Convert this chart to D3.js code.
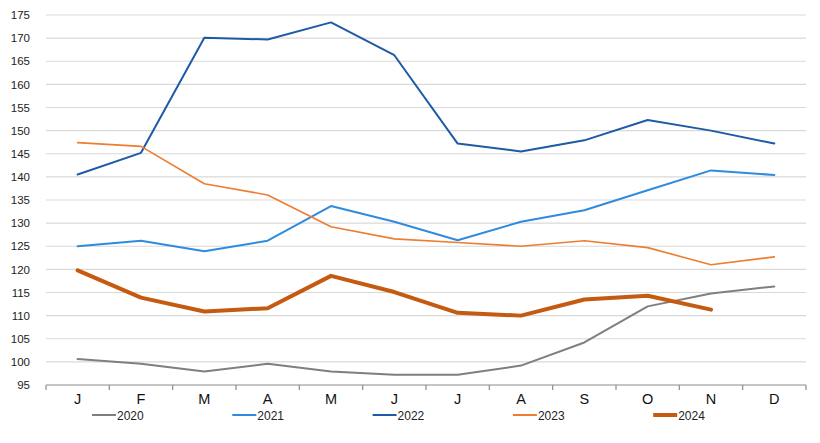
<!DOCTYPE html>
<html>
<head>
<meta charset="utf-8">
<script src="https://cdn.jsdelivr.net/npm/d3@7"></script>
<style>
  body { margin: 0; background: #fff; }
  text { font-family: "Liberation Sans", Arial, sans-serif; }
</style>
</head>
<body>
<div id="chart"></div>
<script>
// data
const months = ['J', 'F', 'M', 'A', 'M', 'J', 'J', 'A', 'S', 'O', 'N', 'D'];
const years = ['2020', '2021', '2022', '2023', '2024'];
const yTicks = [95, 100, 105, 110, 115, 120, 125, 130, 135, 140, 145, 150, 155, 160, 165, 170, 175];

const v2020 = [100.6, 99.6, 97.9, 99.6, 97.9, 97.2, 97.2, 99.2, 104.2, 112.0, 114.8, 116.3];
const v2021 = [125.0, 126.2, 123.9, 126.2, 133.7, 130.3, 126.3, 130.3, 132.8, 137.1, 141.4, 140.4];
const v2022 = [140.5, 145.2, 170.1, 169.7, 173.4, 166.3, 147.2, 145.5, 147.9, 152.3, 150.0, 147.2];
const v2023 = [147.4, 146.6, 138.5, 136.1, 129.2, 126.6, 125.8, 125.0, 126.2, 124.7, 121.0, 122.7];
const v2024 = [119.8, 113.9, 110.9, 111.6, 118.6, 115.1, 110.6, 110.0, 113.5, 114.3, 111.3];

const seriesValues = [v2020, v2021, v2022, v2023, v2024];

const width = 820;
const height = 443;
const margin = { top: 15, right: 14, bottom: 58, left: 46 };

const color = d3.scaleOrdinal()
    .domain(years)
    .range(['#7f7f7f', '#2e8bde', '#1f5aa6', '#ed7d31', '#c55a11']);
const strokeW = { '2020': 2, '2021': 2, '2022': 2, '2023': 1.6, '2024': 4 };

const svg = d3.select('#chart')
    .append('svg')
    .attr('width', width)
    .attr('height', height);

const x = d3.scaleBand()
    .domain(d3.range(months.length))
    .range([margin.left, width - margin.right]);

const y = d3.scaleLinear()
    .domain([95, 175])
    .range([height - margin.bottom, margin.top]);

// gridlines
svg.append('g')
    .selectAll('line')
    .data(yTicks.slice(1))
    .enter()
    .append('line')
    .attr('x1', margin.left)
    .attr('x2', width - margin.right)
    .attr('y1', d => y(d))
    .attr('y2', d => y(d))
    .attr('stroke', '#d9d9d9')
    .attr('stroke-width', 1.2);

// y axis labels
const yAxis = d3.axisLeft(y)
    .tickValues(yTicks)
    .tickSize(0)
    .tickPadding(16);

svg.append('g')
    .attr('transform', `translate(${margin.left},0)`)
    .call(yAxis)
    .call(g => g.select('.domain').remove())
    .selectAll('text')
    .attr('fill', '#222')
    .style('font-size', '11.5px');

// x axis: line, boundary ticks, labels
const xg = svg.append('g');
const baseY = y(95);
xg.append('line')
    .attr('x1', margin.left)
    .attr('x2', width - margin.right)
    .attr('y1', baseY)
    .attr('y2', baseY)
    .attr('stroke', '#8c8c8c')
    .attr('stroke-width', 1.2);

xg.selectAll('.tick-b')
    .data(d3.range(months.length + 1))
    .enter()
    .append('line')
    .attr('x1', i => margin.left + i * x.step())
    .attr('x2', i => margin.left + i * x.step())
    .attr('y1', baseY)
    .attr('y2', baseY + 5)
    .attr('stroke', '#8c8c8c')
    .attr('stroke-width', 1.2);

xg.selectAll('.mlabel')
    .data(months)
    .enter()
    .append('text')
    .attr('x', (d, i) => x(i) + x.bandwidth() / 2)
    .attr('y', baseY + 19)
    .attr('text-anchor', 'middle')
    .attr('fill', '#111')
    .style('font-size', '14.5px')
    .text(d => d);

// lines
const line = d3.line()
    .x((d, i) => x(i) + x.bandwidth() / 2)
    .y(d => y(d));

svg.append('g')
    .selectAll('path')
    .data(years)
    .enter()
    .append('path')
    .attr('d', (d, i) => line(seriesValues[i]))
    .attr('fill', 'none')
    .attr('stroke', d => color(d))
    .attr('stroke-width', d => strokeW[d])
    .attr('stroke-linejoin', 'round')
    .attr('stroke-linecap', 'round');

// legend
const legend = svg.append('g')
    .selectAll('g')
    .data(years)
    .enter()
    .append('g')
    .attr('transform', (d, i) => `translate(${92 + i * 140.3}, 415)`);

legend.append('line')
    .attr('x1', 0)
    .attr('x2', 24)
    .attr('stroke', d => color(d))
    .attr('stroke-width', d => d === '2024' ? 4 : 2);

legend.append('text')
    .attr('x', 25)
    .attr('y', 4.5)
    .attr('fill', '#222')
    .style('font-size', '12px')
    .text(d => d);
</script>
</body>
</html>
